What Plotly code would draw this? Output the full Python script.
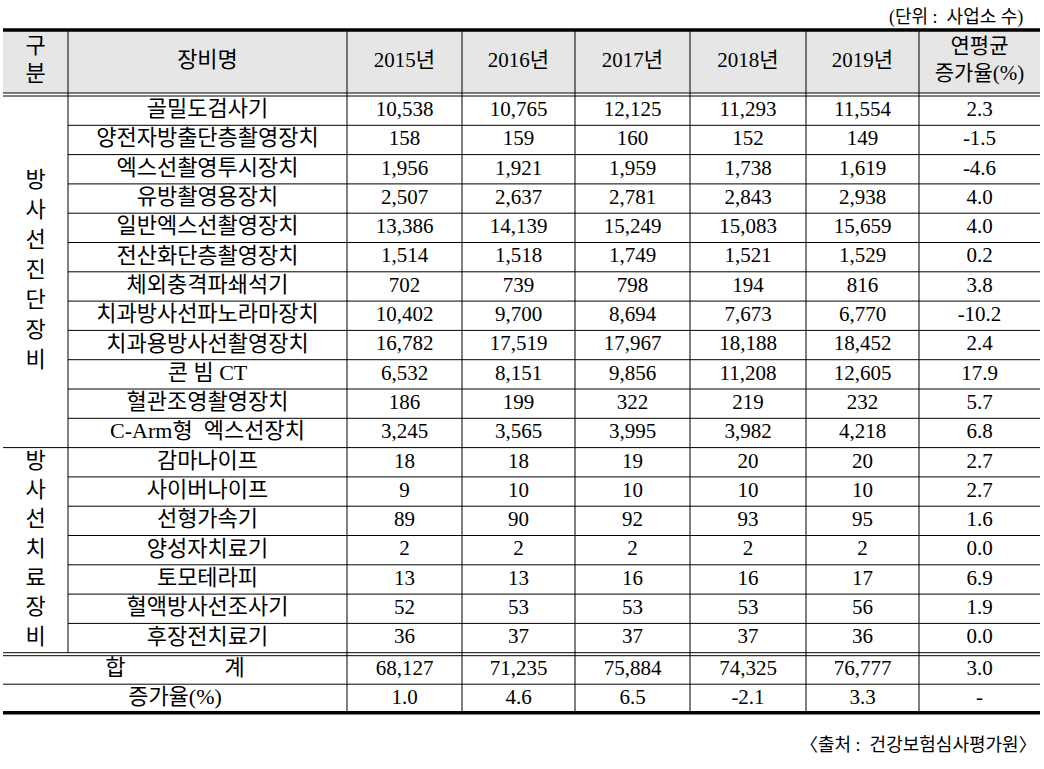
import plotly.graph_objects as go

# ---------------- data ----------------
years = ["2015년", "2016년", "2017년", "2018년", "2019년"]
head_group = "구<br>분"
head_name = "장비명"
head_cagr = "연평균<br>증가율(%)"

group_labels = ["방사선진단장비", "방사선치료장비"]
group_sizes = [12, 7]

equipment = [
    "골밀도검사기", "양전자방출단층촬영장치", "엑스선촬영투시장치", "유방촬영용장치",
    "일반엑스선촬영장치", "전산화단층촬영장치", "체외충격파쇄석기", "치과방사선파노라마장치",
    "치과용방사선촬영장치", "콘 빔 CT", "혈관조영촬영장치", "C-Arm형  엑스선장치",
    "감마나이프", "사이버나이프", "선형가속기", "양성자치료기", "토모테라피",
    "혈액방사선조사기", "후장전치료기",
]
v2015 = [10538, 158, 1956, 2507, 13386, 1514, 702, 10402, 16782, 6532, 186, 3245, 18, 9, 89, 2, 13, 52, 36]
v2016 = [10765, 159, 1921, 2637, 14139, 1518, 739, 9700, 17519, 8151, 199, 3565, 18, 10, 90, 2, 13, 53, 37]
v2017 = [12125, 160, 1959, 2781, 15249, 1749, 798, 8694, 17967, 9856, 322, 3995, 19, 10, 92, 2, 16, 53, 37]
v2018 = [11293, 152, 1738, 2843, 15083, 1521, 194, 7673, 18188, 11208, 219, 3982, 20, 10, 93, 2, 16, 53, 37]
v2019 = [11554, 149, 1619, 2938, 15659, 1529, 816, 6770, 18452, 12605, 232, 4218, 20, 10, 95, 2, 17, 56, 36]
cagr = [2.3, -1.5, -4.6, 4.0, 4.0, 0.2, 3.8, -10.2, 2.4, 17.9, 5.7, 6.8, 2.7, 2.7, 1.6, 0.0, 6.9, 1.9, 0.0]

total_label = "합" + "\u00a0" * 18 + "계"
totals = [68127, 71235, 75884, 74325, 76777]
total_cagr = 3.0
growth_label = "증가율(%)"
growth = [1.0, 4.6, 6.5, -2.1, 3.3]
growth_cagr = "-"

unit_text = "(단위\u00a0:\u00a0\u00a0사업소\u00a0수)"
source_text = "〈출처\u00a0:\u00a0\u00a0건강보험심사평가원〉"

# ---------------- layout constants ----------------
W, H = 1044, 769
FONT = "Liberation Serif, 'Noto Sans CJK KR', serif"
FS = 21
FS_KO = 22
X_LEFT, X_RIGHT = 3, 1040
col_edges = [X_LEFT, 68, 347, 462, 575, 690, 806, 919, X_RIGHT]
TOP = 30
HEAD_BOT = 93
DATA_TOP = 96
ROW_H = 29.3
n_rows = len(equipment)
DATA_BOT = DATA_TOP + n_rows * ROW_H
TOT_TOP = DATA_BOT + 3
TOT_BOT = TOT_TOP + 28.5
GR_BOT = TOT_BOT + 28.5

def cx(i):
    return (col_edges[i] + col_edges[i + 1]) / 2

def ry(r):
    return DATA_TOP + (r + 0.5) * ROW_H

def fmt_int(v):
    return f"{v:,}"

def fmt_f(v):
    return f"{v:.1f}"

fig = go.Figure()

def add_text(xs, ys, texts, size=FS):
    fig.add_trace(go.Scatter(
        x=xs, y=ys, text=texts, mode="text", textposition="middle center",
        textfont=dict(family=FONT, size=size, color="black"),
        hoverinfo="skip", showlegend=False, cliponaxis=False))

# header background
fig.add_shape(type="rect", x0=X_LEFT, x1=X_RIGHT, y0=TOP, y1=HEAD_BOT,
              fillcolor="#e6e6e6", line_width=0, layer="below")

# header texts
hy = (TOP + HEAD_BOT) / 2
add_text([cx(0), cx(1)], [hy, hy], [head_group, head_name], size=FS_KO)
add_text([cx(2 + i) for i in range(5)] + [cx(7)], [hy] * 6, years + [head_cagr])

# data rows
rows = list(range(n_rows))
add_text([cx(1)] * n_rows, [ry(r) for r in rows], equipment, size=FS_KO)
for j, vals in enumerate([v2015, v2016, v2017, v2018, v2019]):
    add_text([cx(2 + j)] * n_rows, [ry(r) for r in rows], [fmt_int(v) for v in vals])
add_text([cx(7)] * n_rows, [ry(r) for r in rows], [fmt_f(v) for v in cagr])

# group labels (vertical)
start = 0
for label, size in zip(group_labels, group_sizes):
    y0 = DATA_TOP + start * ROW_H
    y1 = DATA_TOP + (start + size) * ROW_H
    mid = (y0 + y1) / 2
    n = len(label)
    step = 30 if size > n else ROW_H
    ys = [mid + (k - (n - 1) / 2) * step for k in range(n)]
    add_text([cx(0)] * n, ys, list(label), size=FS_KO)
    start += size

# total & growth rows
merged_x = (col_edges[0] + col_edges[2]) / 2
ty = (TOT_TOP + TOT_BOT) / 2
gy = (TOT_BOT + GR_BOT) / 2
add_text([merged_x, merged_x], [ty, gy], [total_label, growth_label], size=FS_KO)
add_text([cx(2 + j) for j in range(5)] + [cx(7)], [ty] * 6,
         [fmt_int(v) for v in totals] + [fmt_f(total_cagr)])
add_text([cx(2 + j) for j in range(5)] + [cx(7)], [gy] * 6,
         [fmt_f(v) for v in growth] + [growth_cagr])

# ---------------- lines ----------------
def hline(y, x0=X_LEFT, x1=X_RIGHT, w=1):
    fig.add_shape(type="line", x0=x0, x1=x1, y0=y, y1=y,
                  line=dict(color="black", width=w))

def vline(x, y0, y1, w=1):
    fig.add_shape(type="line", x0=x, x1=x, y0=y0, y1=y1,
                  line=dict(color="black", width=w))

hline(TOP, w=3.5)
hline(HEAD_BOT)
hline(DATA_TOP)
boundary_rows = set()
acc = 0
for s in group_sizes[:-1]:
    acc += s
    boundary_rows.add(acc)
for r in range(1, n_rows):
    if r in boundary_rows:
        hline(DATA_TOP + r * ROW_H)
    else:
        hline(DATA_TOP + r * ROW_H, x0=col_edges[1])
hline(DATA_BOT)
hline(TOT_TOP)
hline(TOT_BOT)
hline(GR_BOT, w=3.5)

vline(col_edges[1], TOP, DATA_BOT)
for x in col_edges[2:-1]:
    vline(x, TOP, GR_BOT)

# unit & source
fig.add_annotation(x=1025, y=17, text=unit_text, showarrow=False, xanchor="right",
                   yanchor="middle", font=dict(family=FONT, size=18, color="black"))
fig.add_annotation(x=1039, y=745, text=source_text, showarrow=False, xanchor="right",
                   yanchor="middle", font=dict(family=FONT, size=18, color="black"))

fig.update_layout(
    width=W, height=H, margin=dict(l=0, r=0, t=0, b=0),
    paper_bgcolor="white", plot_bgcolor="white",
    xaxis=dict(range=[0, W], visible=False, fixedrange=True),
    yaxis=dict(range=[H, 0], visible=False, fixedrange=True),
)

fig.write_html("out.html", config={"displayModeBar": False},
               post_script="document.body.style.margin='0';document.body.style.padding='0';")
